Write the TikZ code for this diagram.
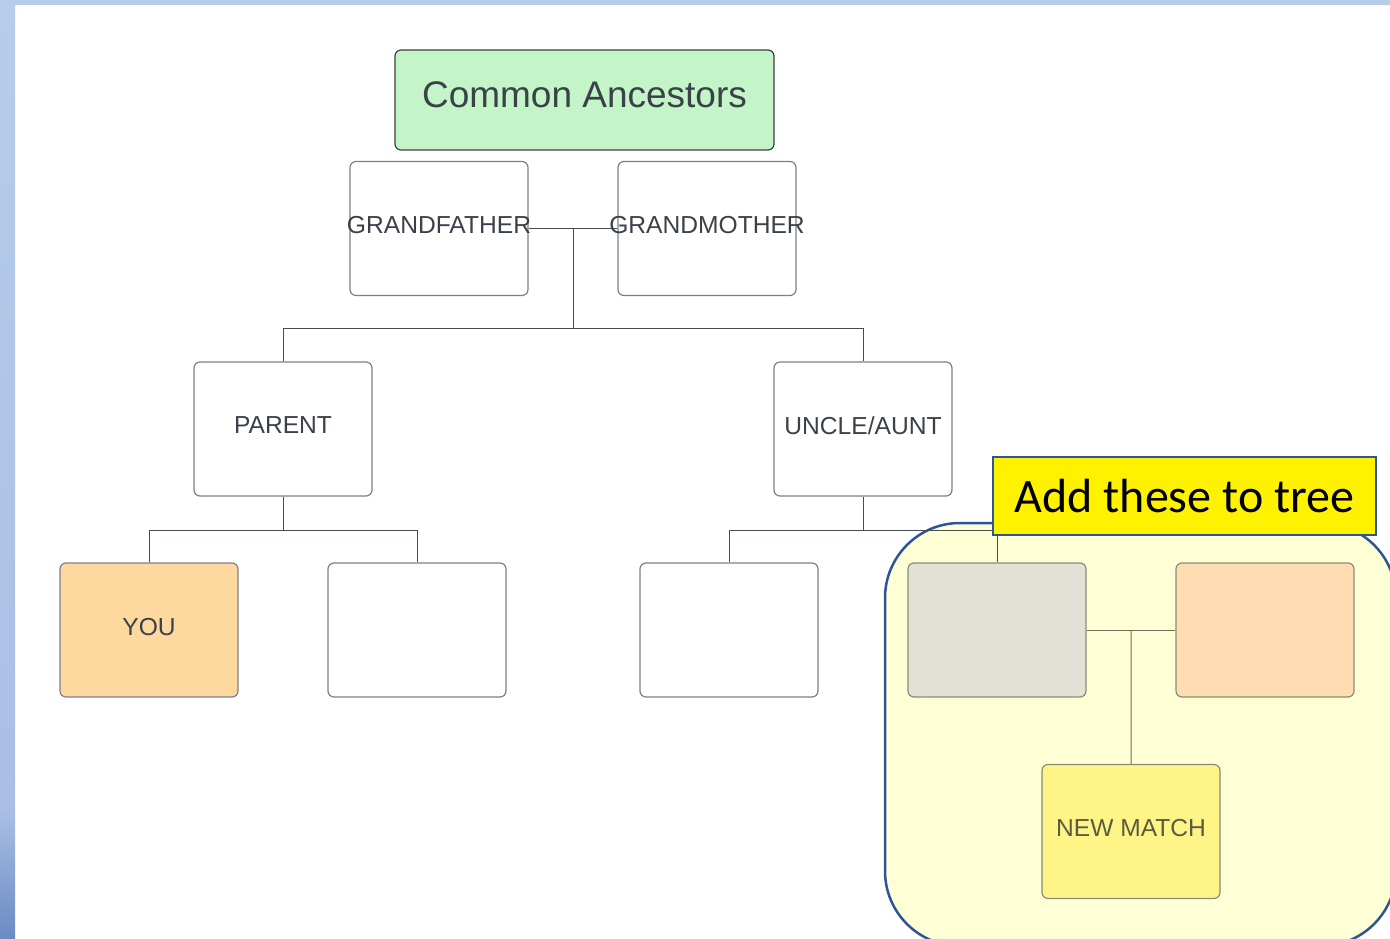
\documentclass[tikz,border=0pt]{standalone}
\usepackage{fontspec}
\setmainfont{Liberation Sans}
\newfontfamily\calloutfont{Carlito}
\usetikzlibrary{calc}

\definecolor{stripTop}{HTML}{B5CDE9}
\definecolor{stripMid}{HTML}{AABFE5}
\definecolor{stripBot}{HTML}{6A8AC3}
\definecolor{boxGray}{HTML}{7D8088}
\definecolor{labelGray}{HTML}{3B4148}
\definecolor{lineGray}{HTML}{474C52}
\definecolor{ancGreen}{HTML}{C3F5C8}
\definecolor{youOrange}{HTML}{FDD9A0}
\definecolor{matchBg}{HTML}{FFFFD6}
\definecolor{spouseGray}{HTML}{E1E1D5}
\definecolor{otherOrange}{HTML}{FFDCB1}
\definecolor{newYellow}{HTML}{FFF587}
\definecolor{oliveLine}{HTML}{6E6E55}
\definecolor{oliveText}{HTML}{5A5C40}
\definecolor{calloutBlue}{HTML}{2F5597}

\tikzset{
  famBox/.style={draw=boxGray, line width=1.2pt, rounded corners=6pt,
    minimum width=178pt, minimum height=134pt, inner sep=0pt, text depth=7pt,
    fill=white, text=labelGray, font=\fontsize{24.6}{28}\selectfont},
  matchBox/.style={famBox, draw=oliveLine!80},
  famLine/.style={draw=lineGray, line width=1pt},
}

\begin{document}
\begin{tikzpicture}[x=1pt, y=-1pt]
  \useasboundingbox (0,0) rectangle (1390,939);
  \clip (0,0) rectangle (1390,939);

  % 背景
  \fill[white] (0,0) rectangle (1390,939);
  \fill[top color=stripTop, bottom color=stripMid] (0,0) rectangle (15,810);
  \fill[top color=stripMid, bottom color=stripBot] (0,810) rectangle (15,939);
  \fill[stripTop] (0,0) rectangle (1390,5);

  % 新匹配区域
  \draw[fill=matchBg, draw=calloutBlue, line width=2.5pt, rounded corners=75pt]
    (885,523) rectangle (1396,946);

  % 共同祖先
  \node[draw=black!75, line width=1.2pt, rounded corners=6pt, fill=ancGreen,
    minimum width=379pt, minimum height=100pt, inner sep=0pt, text depth=10pt,
    text=labelGray, font=\fontsize{37}{40}\selectfont]
    (anc) at (584.5,100) {Common Ancestors};

  % 祖父母
  \node[famBox] (gf) at (439,228.5) {\makebox[0pt]{GRANDFATHER}};
  \node[famBox] (gm) at (707,228.5) {\makebox[0pt]{GRANDMOTHER}};

  % 父母一代
  \node[famBox] (par) at (283,429) {PARENT};
  \node[famBox] (unc) at (863,429) {UNCLE/AUNT};

  % 自己一代
  \node[famBox, fill=youOrange] (you) at (149,630) {YOU};
  \node[famBox] (sib) at (417,630) {};
  \node[famBox] (cous) at (729,630) {};

  % 匹配的一支
  \node[matchBox, fill=spouseGray] (spouse) at (997,630) {};
  \node[matchBox, fill=otherOrange] (other) at (1265,630) {};
  \node[matchBox, fill=newYellow, text=oliveText] (nm) at (1131,831.5) {NEW MATCH};

  % 连线
  \draw[famLine] (gf.east) -- (gm.west);
  \draw[famLine] ($(gf.east)!0.5!(gm.west)$) -- ++(0,100) coordinate (gpJoin);
  \draw[famLine] (par.north) |- (gpJoin) -| (unc.north);
  \draw[famLine] (par.south) -- ++(0,34) coordinate (parJoin);
  \draw[famLine] (you.north) |- (parJoin) -| (sib.north);
  \draw[famLine] (unc.south) -- ++(0,34) coordinate (uncJoin);
  \draw[famLine] (cous.north) |- (uncJoin) -| (spouse.north);
  \draw[famLine, draw=oliveLine] (spouse.east) -- (other.west);
  \draw[famLine, draw=oliveLine] ($(spouse.east)!0.5!(other.west)$) -- (nm.north);

  % 提示框
  \node[draw=calloutBlue, line width=2pt, fill=yellow, minimum width=383pt,
    minimum height=78pt, inner sep=0pt, font=\calloutfont\fontsize{48}{50}\selectfont]
    (hint) at (1184.5,496) {Add these to tree};
\end{tikzpicture}
\end{document}
